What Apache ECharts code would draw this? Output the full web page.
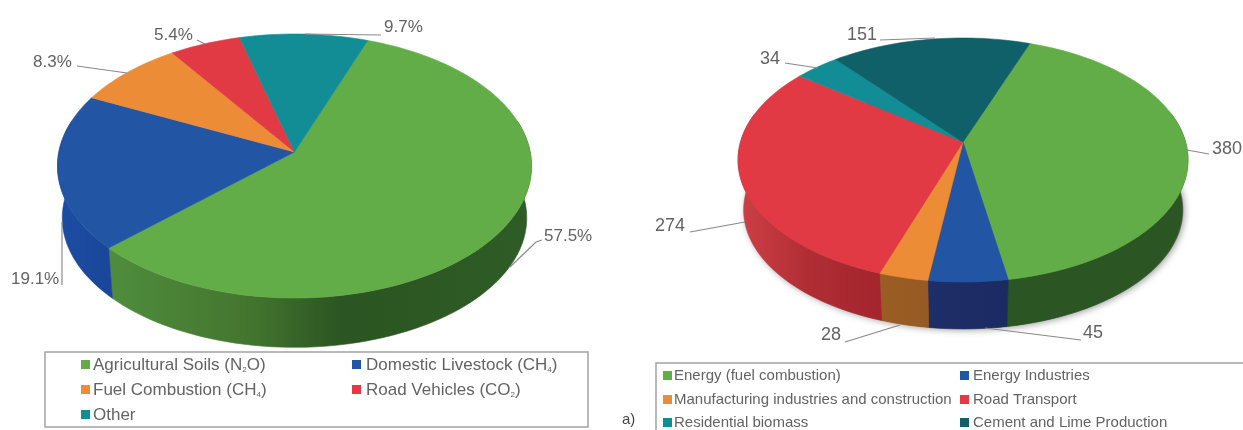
<!DOCTYPE html>
<html><head><meta charset="utf-8">
<style>html,body{margin:0;padding:0;background:#fff}#c{width:1243px;height:430px}</style>
<script src="https://cdn.jsdelivr.net/npm/echarts@6/dist/echarts.min.js"></script>
</head><body><div id="c"></div>
<script>
// ---- data ----
const leftCategories = ['Agricultural Soils (N{s|2}O)', 'Domestic Livestock (CH{s|4})', 'Fuel Combustion (CH{s|4})', 'Road Vehicles (CO{s|2})', 'Other'];
const leftValues = [57.5, 19.1, 8.3, 5.4, 9.7];
const rightCategories = ['Energy (fuel combustion)', 'Energy Industries', 'Manufacturing industries and construction', 'Road Transport', 'Residential biomass', 'Cement and Lime Production'];
const rightValues = [380, 45, 28, 274, 34, 151];

// ---- styles / layout ----
const GREEN='#62ad47', BLUE='#2255a4', ORANGE='#ec8c36', RED='#e13a45', TEAL='#128d95', DTEAL='#0f6068';
const leftColors=[GREEN,BLUE,ORANGE,RED,TEAL];
const rightColors=[GREEN,BLUE,ORANGE,RED,TEAL,DTEAL];
const grad=(stops,x0,x1)=>({stops,x0,x1});
const leftWalls=[
  grad([[0,'#4f8d3c'],[0.33,'#44752f'],[0.55,'#2b5522'],[1,'#2e5c26']],110,531),
  grad([[0,'#1c4da2'],[1,'#1a4699']],58,112),null,null,null];
const rightWalls=[
  grad([[0,'#2b5523'],[1,'#2b5523']],984,1188),
  grad([[0,'#1e2e68'],[1,'#1c2a62']],928,1008),
  grad([[0,'#9a5e25'],[1,'#965a22']],880,928),
  grad([[0,'#cd4045'],[0.5,'#b02d34'],[1,'#a4252d']],738,880),null,null];
const LEFT ={cx:294.5,cy:166,rx:237,ry:132,e:14/132,bcy:218,bk:0.98,start:-70};
const RIGHT={cx:963,cy:160,rx:225,ry:122,e:18/122,bcy:210,bk:0.975,start:-70};

const leftCallouts=[
  {tx:544,ty:236,pts:[[542,240],[536,242],[510,267]]},
  {tx:11,ty:279,pts:[[62,285],[62,222]]},
  {tx:33,ty:62,pts:[[77,66],[127,73]]},
  {tx:154,ty:35,pts:[[197,40],[205,44]]},
  {tx:384,ty:27,pts:[[381,35],[305,34]]}];
const rightCallouts=[
  {tx:1212,ty:149,pts:[[1209,154],[1187,150]]},
  {tx:1083,ty:333,pts:[[1081,340],[985,328]]},
  {tx:821,ty:335,pts:[[845,342],[900,325]]},
  {tx:655,ty:226,pts:[[690,232],[745,222]]},
  {tx:760,ty:59,pts:[[785,63],[818,68]]},
  {tx:847,ty:35,pts:[[880,40],[935,38]]}];

// ---- geometry: a tilted disc with perspective, driven by the values ----
function rim(P,deg,bottom){
  const s=(1-Math.sqrt(1-P.e*P.e))/P.e, t=deg*Math.PI/180, c=Math.cos(t), d=Math.sin(t);
  // z' = (z + a)/(1 + conj(a) z), a = -i s
  const nr=c, ni=d-s, dr=1-s*d, di=s*c, q=dr*dr+di*di;
  const re=(nr*dr+ni*di)/q, im=(ni*dr-nr*di)/q;
  if(bottom) return [P.cx+P.rx*P.bk*re, P.bcy+P.ry*P.bk*im];
  return [P.cx+P.rx*re, P.cy+P.ry*im];
}
function apex(P){return [P.cx, P.cy-P.e*P.ry];}
function arc(P,a,b,bottom){const n=Math.max(2,Math.ceil(Math.abs(b-a)/2));const o=[];for(let i=0;i<=n;i++)o.push(rim(P,a+(b-a)*i/n,bottom));return o;}
function sliceData(names,vals,P){
  const tot=vals.reduce((x,y)=>x+y,0);let a=P.start;
  return vals.map((v,i)=>{const b=a+v/tot*360;const it={name:names[i].replace(/\{s\|(.)\}/g,'$1'),value:[v,a,b,i]};a=b;return it;});
}
function topSeries(names,vals,P,colors){
  return {type:'custom',coordinateSystem:'none',z:3,silent:true,animation:false,
    data:sliceData(names,vals,P),
    renderItem(params,api){
      const a=api.value(1),b=api.value(2),col=colors[api.value(3)];
      return {type:'polygon',shape:{points:[apex(P)].concat(arc(P,a,b))},style:{fill:col,stroke:col,lineWidth:0.6}};
    }};
}
function wallSeries(names,vals,P,walls){
  return {type:'custom',coordinateSystem:'none',z:2,silent:true,animation:false,
    data:sliceData(names,vals,P),
    renderItem(params,api){
      const a=Math.max(api.value(1),-14),b=Math.min(api.value(2),194),g=walls[api.value(3)];
      if(b<=a||!g) return null;
      const fill=new echarts.graphic.LinearGradient(g.x0,0,g.x1,0,g.stops.map(s=>({offset:s[0],color:s[1]})),true);
      return {type:'polygon',shape:{points:arc(P,a,b).concat(arc(P,b,a,true))},style:{fill,stroke:fill,lineWidth:0.6}};
    }};
}
// ---- annotation graphics ----
const TXT='#636363';
function callouts(list,vals,suffix,size){
  const out=[];
  list.forEach((c,i)=>{
    out.push({type:'polyline',z:5,shape:{points:c.pts},style:{stroke:'#8a8a8a',lineWidth:1.2,fill:'none'}});
    out.push({type:'text',z:5,x:c.tx,y:c.ty,style:{text:vals[i]+suffix,font:size+'px "Liberation Sans"',fill:TXT,textVerticalAlign:'middle'}});
  });
  return out;
}
function legendRows(names,colors,cells,size){
  const out=[];
  names.forEach((n,i)=>{
    const c=cells[i];
    out.push({type:'rect',z:6,shape:{x:c[0],y:c[2]-5,width:9,height:9},style:{fill:colors[i]}});
    out.push({type:'text',z:6,x:c[1],y:c[2],style:{text:n,fill:TXT,font:size+'px "Liberation Sans"',textVerticalAlign:'middle',
      rich:{s:{fontSize:8,fill:TXT,verticalAlign:'bottom',lineHeight:17,fontFamily:'Liberation Sans'}}}});
  });
  return out;
}
const leftCells=[[81,93,365],[352,366,365],[81,93,390],[352,366,390],[81,93,415]];
const rightCells=[[663,674,376],[960,973,376],[663,674,400],[960,973,400],[663,674,423],[960,973,423]];

const graphic=[
  {type:'ellipse',z:0,shape:{cx:RIGHT.cx+1,cy:RIGHT.bcy,rx:RIGHT.rx*RIGHT.bk,ry:RIGHT.ry*RIGHT.bk},style:{fill:'#777',shadowBlur:7,shadowColor:'rgba(0,0,0,0.4)',shadowOffsetX:1,shadowOffsetY:1}},
  {type:'rect',z:1,shape:{x:45,y:352,width:543,height:75},style:{fill:'#fff',stroke:'#a3a3a3',lineWidth:1.5}},
  {type:'rect',z:1,shape:{x:656,y:363,width:600,height:80},style:{fill:'#fff',stroke:'#a3a3a3',lineWidth:1.5}},
  {type:'text',z:6,x:622,y:420,style:{text:'a)',fill:'#444',font:'15px "Liberation Sans"',textVerticalAlign:'middle'}}
].concat(
  callouts(leftCallouts,leftValues,'%',17),
  callouts(rightCallouts,rightValues,'',18),
  legendRows(leftCategories,leftColors,leftCells,17),
  legendRows(rightCategories,rightColors,rightCells,15)
);

const chart=echarts.init(document.getElementById('c'),null,{renderer:'canvas'});
chart.setOption({
  animation:false,
  backgroundColor:'#fff',
  graphic:{elements:graphic},
  series:[
    wallSeries(leftCategories,leftValues,LEFT,leftWalls),
    topSeries(leftCategories,leftValues,LEFT,leftColors),
    wallSeries(rightCategories,rightValues,RIGHT,rightWalls),
    topSeries(rightCategories,rightValues,RIGHT,rightColors)
  ]
});
</script></body></html>
